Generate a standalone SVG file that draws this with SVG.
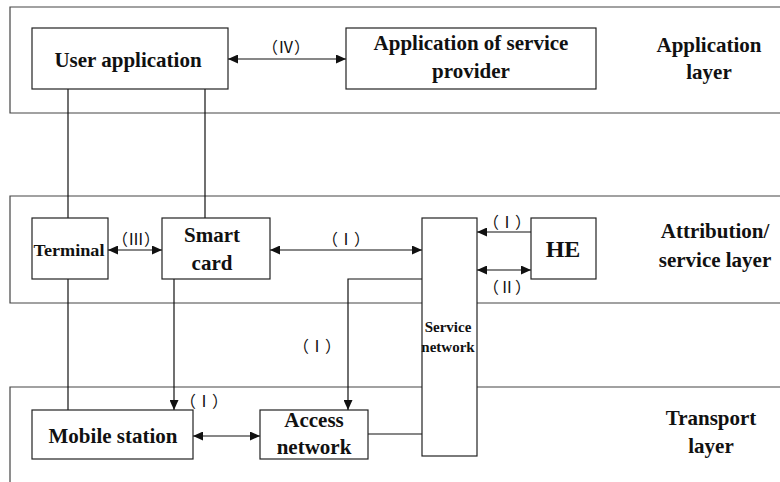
<svg xmlns="http://www.w3.org/2000/svg" width="780" height="482" viewBox="0 0 780 482">
<style>
.frame{fill:none;stroke:#444;stroke-width:1.2}
.box{fill:#fff;stroke:#222;stroke-width:1.2}
.ln{fill:none;stroke:#111;stroke-width:1.2}
</style>
<defs>
<marker id="ah" viewBox="0 0 10 10" refX="10" refY="5" markerWidth="10" markerHeight="9" markerUnits="userSpaceOnUse" orient="auto-start-reverse" preserveAspectRatio="none">
<path d="M0,0 L10,5 L0,10 z" fill="#111"/>
</marker>
</defs>
<g font-family="Liberation Serif, Times New Roman, serif" font-weight="bold" fill="#111" text-anchor="middle">
<g id="layers">
<path class="frame" d="M781,7 H10 V113 H781"/>
<path class="frame" d="M781,196 H10 V303 H781"/>
<path class="frame" d="M781,387 H10 V483"/>
<text font-size="21" transform="translate(709,52)">Application</text>
<text font-size="21" transform="translate(709,79)">layer</text>
<text font-size="21" transform="translate(715,238)">Attribution/</text>
<text font-size="21" transform="translate(715,267)">service layer</text>
<text font-size="21" transform="translate(711,425)">Transport</text>
<text font-size="21" transform="translate(711,453)">layer</text>
</g>
<g id="connectors">
<path class="ln" d="M68,89 V218"/>
<path class="ln" d="M205,89 V218"/>
<path class="ln" d="M68,279 V410"/>
<path class="ln" d="M174,279 V410" marker-end="url(#ah)"/>
<path class="ln" d="M422,279 H348 V410" marker-end="url(#ah)"/>
<path class="ln" d="M228,59 H346" marker-start="url(#ah)" marker-end="url(#ah)"/>
<path class="ln" d="M108,250 H162" marker-start="url(#ah)" marker-end="url(#ah)"/>
<path class="ln" d="M270,250 H422" marker-start="url(#ah)" marker-end="url(#ah)"/>
<path class="ln" d="M531,232 H477" marker-end="url(#ah)"/>
<path class="ln" d="M477,270 H531" marker-start="url(#ah)" marker-end="url(#ah)"/>
<path class="ln" d="M193,436 H260" marker-start="url(#ah)" marker-end="url(#ah)"/>
<path class="ln" d="M368,434 H422"/>
<g font-size="16" font-weight="normal" font-family="Liberation Serif, Noto Sans CJK SC, serif">
<text x="286" y="53">（Ⅳ）</text>
<text x="136" y="245">（Ⅲ）</text>
<text x="346" y="245">（Ⅰ）</text>
<text x="507" y="228">（Ⅰ）</text>
<text x="507" y="293">（Ⅱ）</text>
<text x="317" y="352">（Ⅰ）</text>
<text x="204" y="407">（Ⅰ）</text>
</g>
</g>
<g id="user-application">
<rect class="box" x="32" y="28" width="196" height="61"/>
<text font-size="21" transform="translate(128,67)">User application</text>
</g>
<g id="service-provider-application">
<rect class="box" x="346" y="28" width="250" height="61"/>
<text font-size="21" transform="translate(471,50)">Application of service</text>
<text font-size="21" transform="translate(471,78)">provider</text>
</g>
<g id="terminal">
<rect class="box" x="32" y="218" width="76" height="61"/>
<text font-size="17" x="69" y="256" textLength="71" lengthAdjust="spacingAndGlyphs">Terminal</text>
</g>
<g id="smart-card">
<rect class="box" x="162" y="218" width="108" height="61"/>
<text font-size="21" transform="translate(212,242)">Smart</text>
<text font-size="21" transform="translate(212,270)">card</text>
</g>
<g id="he">
<rect class="box" x="531" y="218" width="65" height="61"/>
<text font-size="24" transform="translate(563,257)">HE</text>
</g>
<g id="service-network">
<rect class="box" x="422" y="218" width="55" height="238"/>
<text font-size="15" x="448" y="332">Service</text>
<text font-size="15" x="448" y="352">network</text>
</g>
<g id="mobile-station">
<rect class="box" x="32" y="410" width="161" height="49"/>
<text font-size="21" transform="translate(113,443)">Mobile station</text>
</g>
<g id="access-network">
<rect class="box" x="260" y="410" width="108" height="49"/>
<text font-size="21" transform="translate(314,427)">Access</text>
<text font-size="21" transform="translate(314,454)">network</text>
</g>
</g>
</svg>
